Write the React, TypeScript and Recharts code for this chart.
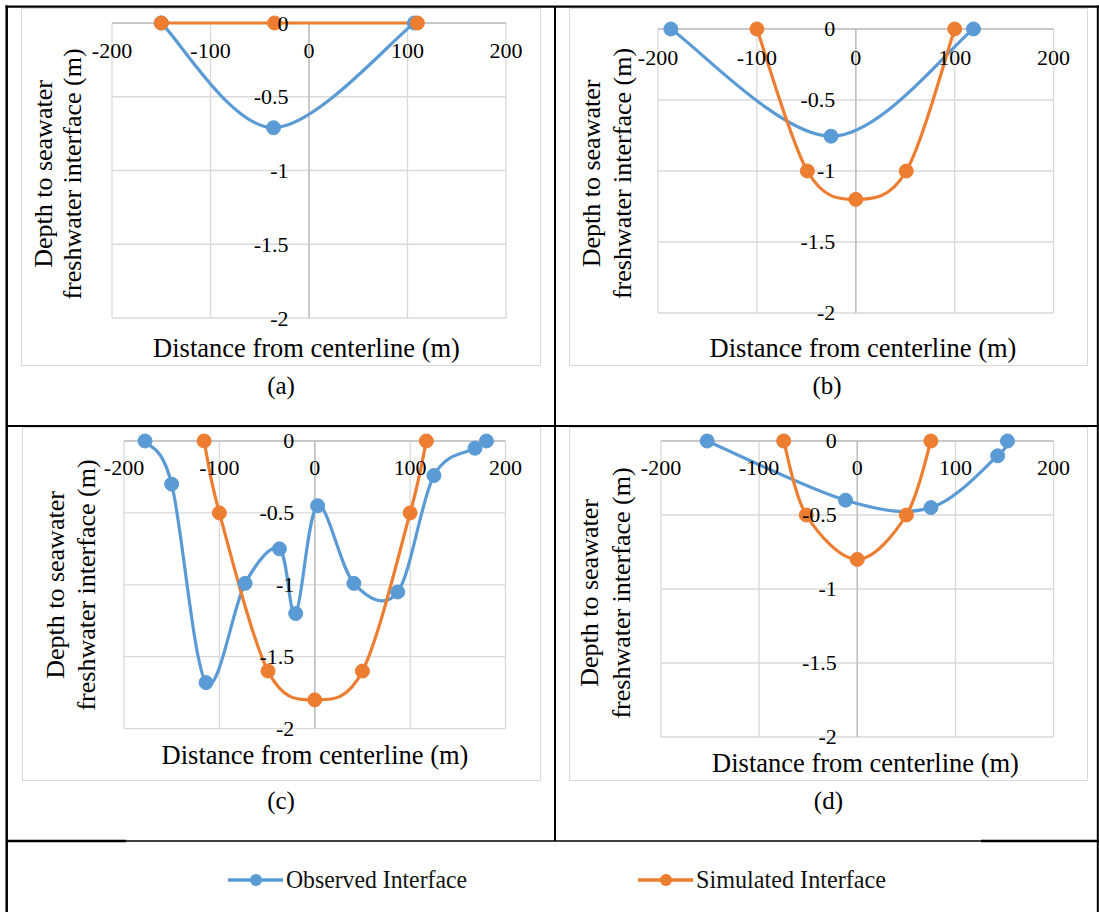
import { LineChart, Line, XAxis, YAxis, CartesianGrid, ReferenceLine } from 'recharts'

const SERIES_NAMES = ['Observed Interface', 'Simulated Interface']
const X_TICKS = [-200, -100, 0, 100, 200]
const Y_TICKS = [-2, -1.5, -1, -0.5, 0]
const X_TITLE = 'Distance from centerline (m)'
const Y_TITLE = ['Depth to seawater', 'freshwater interface (m)']
const CAPTIONS = ['(a)', '(b)', '(c)', '(d)']

// (a)
const A_OBS_X = [-150, -36, 107]
const A_OBS_Y = [0, -0.71, 0]
const A_SIM_X = [-150, -35, 110]
const A_SIM_Y = [0, 0, 0]

// (b)
const B_OBS_X = [-187, -25, 119]
const B_OBS_Y = [0, -0.755, 0]
const B_SIM_X = [-100, -49, 0, 51, 100]
const B_SIM_Y = [0, -1, -1.2, -1, 0]

// (c)
const C_OBS_X = [-178, -150, -114, -73, -37, -20, 3, 41, 87, 125, 168, 180]
const C_OBS_Y = [0, -0.3, -1.68, -0.99, -0.75, -1.2, -0.45, -0.99, -1.05, -0.24, -0.05, 0]
const C_SIM_X = [-116, -100, -49, 0, 50, 100, 117]
const C_SIM_Y = [0, -0.5, -1.6, -1.8, -1.6, -0.5, 0]

// (d)
const D_OBS_X = [-153, -12, 75, 143, 153]
const D_OBS_Y = [0, -0.4, -0.45, -0.1, 0]
const D_SIM_X = [-75, -52, 0, 50, 75]
const D_SIM_Y = [0, -0.5, -0.8, -0.5, 0]

const BLUE = '#5B9BD5'
const ORANGE = '#ED7D31'
const GRID = '#D9D9D9'
const AXIS = '#BFBFBF'
const FONT = "'Liberation Serif', 'Times New Roman', serif"
const PAD = 40
const AXIS_SIZE = 30

const zip = (xs: number[], ys: number[]) => xs.map((x, i) => ({ x, y: ys[i] }))

// Excel-style smoothed line: cubic bezier through every point, Catmull-Rom tangents
function smoothCurve(context: any) {
  let pts: [number, number][] = []
  return {
    areaStart() {},
    areaEnd() {},
    lineStart() {
      pts = []
    },
    lineEnd() {
      const n = pts.length
      if (!n) return
      context.moveTo(pts[0][0], pts[0][1])
      for (let i = 0; i < n - 1; i++) {
        const p0 = pts[Math.max(i - 1, 0)]
        const p1 = pts[i]
        const p2 = pts[i + 1]
        const p3 = pts[Math.min(i + 2, n - 1)]
        context.bezierCurveTo(
          p1[0] + (p2[0] - p0[0]) / 6, p1[1] + (p2[1] - p0[1]) / 6,
          p2[0] - (p3[0] - p1[0]) / 6, p2[1] - (p3[1] - p1[1]) / 6,
          p2[0], p2[1],
        )
      }
    },
    point(x: number, y: number) {
      pts.push([+x, +y])
    },
  }
}

interface PanelDef {
  obs: { x: number; y: number }[]
  sim: { x: number; y: number }[]
  box: { x: number; y: number; w: number; h: number }
  plot: { x: number; y: number; w: number; h: number }
  xTitle: { x: number; y: number }
  yTitle: { x1: number; x2: number; y: number }
  caption: { x: number; y: number }
  tickGap: number
}

const panels: PanelDef[] = [
  {
    obs: zip(A_OBS_X, A_OBS_Y), sim: zip(A_SIM_X, A_SIM_Y),
    box: { x: 21, y: 8, w: 520, h: 358 },
    plot: { x: 111.5, y: 22.7, w: 394, h: 295 },
    xTitle: { x: 306.5, y: 348 },
    yTitle: { x1: 43, x2: 72.5, y: 174 },
    caption: { x: 281, y: 385 },
    tickGap: 27,
  },
  {
    obs: zip(B_OBS_X, B_OBS_Y), sim: zip(B_SIM_X, B_SIM_Y),
    box: { x: 569, y: 7.5, w: 519, h: 358.5 },
    plot: { x: 658, y: 29.3, w: 395.6, h: 284 },
    xTitle: { x: 863, y: 348 },
    yTitle: { x1: 591.4, x2: 622.7, y: 173.5 },
    caption: { x: 827, y: 385 },
    tickGap: 29,
  },
  {
    obs: zip(C_OBS_X, C_OBS_Y), sim: zip(C_SIM_X, C_SIM_Y),
    box: { x: 22, y: 427, w: 519, h: 354 },
    plot: { x: 124, y: 440.7, w: 381.5, h: 287.6 },
    xTitle: { x: 315, y: 755 },
    yTitle: { x1: 55, x2: 86.7, y: 585 },
    caption: { x: 281, y: 800 },
    tickGap: 27,
  },
  {
    obs: zip(D_OBS_X, D_OBS_Y), sim: zip(D_SIM_X, D_SIM_Y),
    box: { x: 569, y: 426.5, w: 519, h: 354.5 },
    plot: { x: 661, y: 440.7, w: 392.6, h: 296 },
    xTitle: { x: 865.5, y: 763 },
    yTitle: { x1: 589.7, x2: 621, y: 593 },
    caption: { x: 828.4, y: 800 },
    tickGap: 27,
  },
]

function Panel({ p }: { p: PanelDef }) {
  // the plot area sits PAD px inside the chart on every side
  const zeroX = PAD + p.plot.w / 2
  const xTick = (props: any) => (
    <text x={props.x} y={PAD + p.tickGap} textAnchor="middle" dominantBaseline="central"
      fontFamily={FONT} fontSize={22} fill="#000">
      {props.payload.value}
    </text>
  )
  const yTick = (props: any) => (
    <text x={zeroX - 20.5} y={props.y} textAnchor="end" dominantBaseline="central"
      fontFamily={FONT} fontSize={22} fill="#000">
      {props.payload.value}
    </text>
  )
  return (
    <>
      <div style={{
        position: 'absolute', left: p.box.x, top: p.box.y, width: p.box.w, height: p.box.h,
        border: `1.5px solid ${GRID}`, boxSizing: 'border-box',
      }} />
      <div style={{ position: 'absolute', left: p.plot.x - PAD, top: p.plot.y - PAD }}>
        <LineChart width={p.plot.w + PAD * 2} height={p.plot.h + PAD * 2}
          margin={{ top: PAD, right: PAD, bottom: PAD - AXIS_SIZE, left: PAD - AXIS_SIZE }}
          style={{ overflow: 'visible' }}>
          <CartesianGrid stroke={GRID} strokeWidth={1.3} />
          <ReferenceLine x={0} stroke={AXIS} strokeWidth={1.5} />
          <ReferenceLine y={0} stroke={AXIS} strokeWidth={1.5} />
          <Line data={p.obs} dataKey="y" name={SERIES_NAMES[0]} type={smoothCurve as any}
            stroke={BLUE} strokeWidth={3.2}
            dot={{ r: 7, fill: BLUE, stroke: BLUE, strokeWidth: 1 }}
            isAnimationActive={false} />
          <Line data={p.sim} dataKey="y" name={SERIES_NAMES[1]} type={smoothCurve as any}
            stroke={ORANGE} strokeWidth={3.2}
            dot={{ r: 7, fill: ORANGE, stroke: ORANGE, strokeWidth: 1 }}
            isAnimationActive={false} />
          <XAxis type="number" dataKey="x" domain={[-200, 200]} ticks={X_TICKS} height={AXIS_SIZE}
            axisLine={false} tickLine={false} tick={xTick} interval={0} />
          <YAxis type="number" domain={[-2, 0]} ticks={Y_TICKS} width={AXIS_SIZE}
            axisLine={false} tickLine={false} tick={yTick} interval={0} />
        </LineChart>
      </div>
    </>
  )
}

function Labels({ p, caption }: { p: PanelDef; caption: string }) {
  return (
    <g fontFamily={FONT} fill="#000">
      <text x={p.xTitle.x} y={p.xTitle.y} textAnchor="middle" dominantBaseline="central" fontSize={26.5}>
        {X_TITLE}
      </text>
      {Y_TITLE.map((line, i) => (
        <text key={line} transform={`translate(${i === 0 ? p.yTitle.x1 : p.yTitle.x2},${p.yTitle.y}) rotate(-90)`}
          textAnchor="middle" dominantBaseline="central" fontSize={26}>
          {line}
        </text>
      ))}
      <text x={p.caption.x} y={p.caption.y} textAnchor="middle" dominantBaseline="central" fontSize={25}>
        {caption}
      </text>
    </g>
  )
}

const legendItems = [
  { name: SERIES_NAMES[0], color: BLUE, x0: 228, textLen: 181 },
  { name: SERIES_NAMES[1], color: ORANGE, x0: 638, textLen: 190 },
]

export default function App() {
  return (
    <div style={{ position: 'absolute', left: 0, top: 0, width: 1099, height: 912, background: '#fff' }}>
      {panels.map((p, i) => <Panel key={i} p={p} />)}
      <svg width={1099} height={912} style={{ position: 'absolute', left: 0, top: 0, pointerEvents: 'none' }}>
        {panels.map((p, i) => <Labels key={i} p={p} caption={CAPTIONS[i]} />)}

        {/* table rules */}
        <line x1={6.7} y1={5.5} x2={6.7} y2={912} stroke="#000" strokeWidth={2.5} />
        <line x1={5.5} y1={6.7} x2={1099} y2={6.7} stroke="#000" strokeWidth={2.2} />
        <line x1={1097.8} y1={5.5} x2={1097.8} y2={912} stroke="#000" strokeWidth={2} />
        <line x1={555} y1={6} x2={555} y2={841} stroke="#000" strokeWidth={2} />
        <line x1={6} y1={426} x2={1099} y2={426} stroke="#000" strokeWidth={2.2} />
        <line x1={6} y1={841} x2={126} y2={841} stroke="#000" strokeWidth={2.5} />
        <line x1={126} y1={841} x2={981} y2={841} stroke="#000" strokeWidth={1.3} />
        <line x1={981} y1={841} x2={1099} y2={841} stroke="#000" strokeWidth={2.5} />

        {/* shared legend */}
        {legendItems.map((it) => (
          <g key={it.name}>
            <line x1={it.x0} y1={880} x2={it.x0 + 55} y2={880} stroke={it.color} strokeWidth={3.5} />
            <circle cx={it.x0 + 28} cy={880} r={6} fill={it.color} />
            <text x={it.x0 + 58} y={879} dominantBaseline="central" fontFamily={FONT} fontSize={26}
              textLength={it.textLen} lengthAdjust="spacingAndGlyphs" fill="#111">
              {it.name}
            </text>
          </g>
        ))}
      </svg>
    </div>
  )
}
